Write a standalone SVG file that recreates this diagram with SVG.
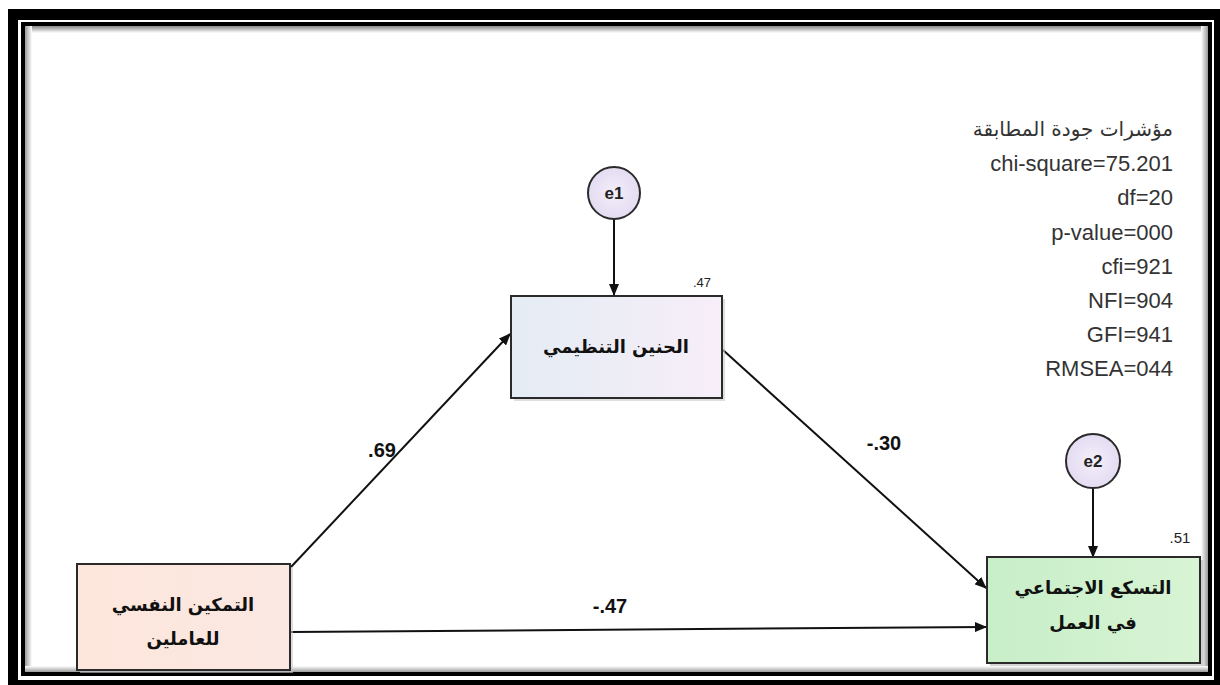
<svg xmlns="http://www.w3.org/2000/svg" width="1220" height="685" viewBox="0 0 1220 685">
<defs>
<style>
.box{stroke:#2a2a2a;stroke-width:2}
.lbl{font-family:"Liberation Sans","Noto Sans",Arial,sans-serif;font-weight:bold;font-size:20px;fill:#111;text-anchor:middle}
.ar{font-family:"DejaVu Sans","Noto Sans",sans-serif;font-weight:bold;font-size:18px;fill:#111;text-anchor:middle}
.err{font-family:"Liberation Sans",Arial,sans-serif;font-weight:bold;font-size:17px;fill:#222;text-anchor:middle}
.stat{font-family:"Liberation Sans",Arial,sans-serif;font-size:22px;fill:#333;text-anchor:end}
.small{font-family:"Liberation Sans",Arial,sans-serif;font-size:13px;fill:#222;text-anchor:middle}
.conn line{stroke:#111;stroke-width:2;marker-end:url(#ah)}
</style>
<marker id="ah" viewBox="0 0 12 10" refX="11" refY="5" markerWidth="12" markerHeight="10" markerUnits="userSpaceOnUse" orient="auto">
<path d="M0,0 L12,5 L0,10 Z" fill="#111"/>
</marker>
<linearGradient id="gMid" x1="0" y1="0" x2="1" y2="0">
<stop offset="0" stop-color="#e4ecf4"/><stop offset="1" stop-color="#f7eef8"/>
</linearGradient>
<linearGradient id="gLeft" x1="0" y1="0" x2="1" y2="0">
<stop offset="0" stop-color="#fde6dc"/><stop offset="1" stop-color="#fbe8e2"/>
</linearGradient>
<linearGradient id="gRight" x1="0" y1="0" x2="1" y2="0">
<stop offset="0" stop-color="#c8eec8"/><stop offset="1" stop-color="#d8f4d4"/>
</linearGradient>
<radialGradient id="gCirc">
<stop offset="0" stop-color="#f3eefa"/><stop offset="1" stop-color="#e4dcf2"/>
</radialGradient>
<linearGradient id="shTop" x1="0" y1="0" x2="0" y2="1">
<stop offset="0" stop-color="#8a8a8a"/><stop offset="1" stop-color="#ffffff"/>
</linearGradient>
<linearGradient id="shLeft" x1="0" y1="0" x2="1" y2="0">
<stop offset="0" stop-color="#9a9a9a"/><stop offset="1" stop-color="#ffffff"/>
</linearGradient>
<linearGradient id="shRight" x1="1" y1="0" x2="0" y2="0">
<stop offset="0" stop-color="#9a9a9a"/><stop offset="1" stop-color="#ffffff"/>
</linearGradient>
<linearGradient id="shBot" x1="0" y1="1" x2="0" y2="0">
<stop offset="0" stop-color="#9a9a9a"/><stop offset="1" stop-color="#ffffff"/>
</linearGradient>
</defs>

<rect x="0" y="0" width="1220" height="685" fill="#ffffff"/>
<g id="frame">
<rect x="8" y="9" width="1212" height="676" fill="#000"/>
<rect x="18" y="20" width="1196" height="660" fill="#fff"/>
<rect x="21" y="22" width="1191" height="654" fill="#000"/>
<rect x="25" y="26" width="1183" height="646" fill="#fff"/>
<rect x="25" y="26" width="1183" height="7" fill="url(#shTop)"/>
<rect x="25" y="26" width="7" height="646" fill="url(#shLeft)"/>
<rect x="1201" y="26" width="7" height="646" fill="url(#shRight)"/>
<rect x="25" y="666" width="1183" height="6" fill="url(#shBot)"/>
</g>

<g id="stats">
<text class="stat" x="1173" y="136" style="font-family:'DejaVu Sans','Noto Sans',sans-serif;font-size:20px">مؤشرات جودة المطابقة</text>
<text class="stat" x="1173" y="171">chi-square=75.201</text>
<text class="stat" x="1173" y="205">df=20</text>
<text class="stat" x="1173" y="240">p-value=000</text>
<text class="stat" x="1173" y="274">cfi=921</text>
<text class="stat" x="1173" y="308">NFI=904</text>
<text class="stat" x="1173" y="342">GFI=941</text>
<text class="stat" x="1173" y="376">RMSEA=044</text>
</g>

<g id="connectors" class="conn">
<line x1="614" y1="219" x2="614" y2="295"/>
<line x1="1093" y1="488" x2="1093" y2="557"/>
<line x1="291" y1="567" x2="510" y2="334"/>
<line x1="723" y1="350" x2="986" y2="588"/>
<line x1="291" y1="632" x2="986" y2="627"/>
</g>

<g id="edge-labels">
<text class="lbl" x="382" y="457">.69</text>
<text class="lbl" x="884" y="450">-.30</text>
<text class="lbl" x="610" y="613">-.47</text>
</g>

<g id="e1">
<circle cx="614" cy="193" r="26" fill="url(#gCirc)" stroke="#2a2a2a" stroke-width="2"/>
<text class="err" x="614" y="199">e1</text>
</g>

<g id="e2">
<circle cx="1093" cy="461" r="27" fill="url(#gCirc)" stroke="#2a2a2a" stroke-width="2"/>
<text class="err" x="1093" y="467">e2</text>
</g>

<g id="mediator">
<rect x="514" y="299" width="211" height="102" fill="#c8c8c8" opacity="0.6"/>
<rect class="box" x="511" y="296" width="211" height="102" fill="url(#gMid)"/>
<text class="ar" x="616" y="353">الحنين التنظيمي</text>
<text class="small" x="702" y="287">.47</text>
</g>

<g id="predictor">
<rect x="80" y="567" width="213" height="106" fill="#c8c8c8" opacity="0.6"/>
<rect class="box" x="77" y="564" width="213" height="106" fill="url(#gLeft)"/>
<text class="ar" x="183" y="611">التمكين النفسي</text>
<text class="ar" x="183" y="645">للعاملين</text>
</g>

<g id="outcome">
<rect x="990" y="560" width="213" height="106" fill="#b8b8b8" opacity="0.6"/>
<rect class="box" x="987" y="557" width="213" height="106" fill="url(#gRight)"/>
<text class="ar" x="1093" y="594">التسكع الاجتماعي</text>
<text class="ar" x="1093" y="629">في العمل</text>
<text class="small" x="1180" y="543" style="font-size:15px">.51</text>
</g>
</svg>
